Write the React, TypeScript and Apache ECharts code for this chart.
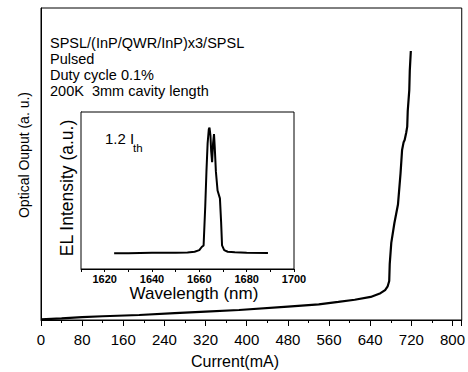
import React, { useEffect, useRef } from "react";
import * as echarts from "echarts";

// Main L-I curve: current (mA) vs optical output (a.u.)
const currentMA = [0, 40, 80, 120, 191, 260, 320, 385, 480, 540, 578, 610, 641, 660, 669, 674, 677, 678, 681, 687, 694, 699, 702, 705, 707, 710, 712, 713, 716, 717, 719];
const opticalOutput = [0.2, 0.5, 0.9, 1.2, 1.6, 2.2, 2.7, 3.2, 4.3, 5.0, 5.8, 6.5, 7.4, 8.6, 9.6, 10.8, 12.5, 18, 24.7, 31, 37, 47, 54.5, 57, 57.7, 60, 62, 67, 73.7, 80, 86.2];

// Inset EL spectrum: wavelength (nm) vs intensity (a.u.)
const wavelengthNM = [1624, 1630, 1640, 1650, 1655, 1658, 1660, 1661, 1661.8, 1662.5, 1663, 1663.5, 1664, 1664.3, 1664.7, 1665, 1665.4, 1665.8, 1666.2, 1666.5, 1667, 1667.7, 1668.7, 1669.2, 1669.6, 1670.5, 1672, 1675, 1680, 1689];
const elIntensity = [10, 10.1, 10.3, 10.3, 10.5, 11, 12, 14, 15, 40, 62, 80, 89, 90, 85, 75, 68, 80, 86, 78, 62, 50, 45, 30, 15, 12, 11, 10.6, 10.3, 10.2];

const annotationLines = [
  "SPSL/(InP/QWR/InP)x3/SPSL",
  "Pulsed",
  "Duty cycle 0.1%",
  "200K  3mm cavity length",
];

const FONT = "Liberation Sans, Arial, sans-serif";

export default function App() {
  const ref = useRef<HTMLDivElement>(null);

  useEffect(() => {
    if (!ref.current) return;
    const chart = echarts.init(ref.current, undefined, { renderer: "svg" });

    const mainData = currentMA.map((x, i) => [x, opticalOutput[i]]);
    const elData = wavelengthNM.map((x, i) => [x, elIntensity[i]]);

    const annoY = [43, 59, 75, 90.5];

    const option: any = {
      animation: false,
      backgroundColor: "#fff",
      grid: [
        { left: 41, top: 8, right: 4, bottom: 52, show: true, borderColor: "#000", borderWidth: 1, backgroundColor: "transparent" },
        { left: 81, top: 112, right: 174, bottom: 103, show: true, borderColor: "#000", borderWidth: 1, backgroundColor: "#fff", z: 5 },
      ],
      xAxis: [
        {
          gridIndex: 0,
          type: "value",
          min: 0,
          max: 818,
          interval: 40,
          axisLine: { show: true, onZero: false, lineStyle: { color: "#000", width: 1 } },
          axisTick: { show: true, length: 3, lineStyle: { color: "#000" } },
          axisLabel: {
            show: true,
            margin: 12,
            color: "#000",
            fontSize: 15,
            fontFamily: FONT,
            formatter: (v: number) => (v % 80 === 0 && v <= 800 ? String(v) : ""),
          },
          splitLine: { show: false },
        },
        {
          gridIndex: 0,
          type: "value",
          position: "bottom",
          min: 0,
          max: 818,
          interval: 80,
          axisLine: { show: false, onZero: false },
          axisTick: { show: true, length: 6, lineStyle: { color: "#000" } },
          axisLabel: { show: false },
          splitLine: { show: false },
        },
        {
          gridIndex: 1,
          type: "value",
          min: 1610,
          max: 1700,
          interval: 10,
          axisLine: { show: true, onZero: false, lineStyle: { color: "#000", width: 1 } },
          axisTick: { show: true, length: 3, lineStyle: { color: "#000" } },
          axisLabel: {
            show: true,
            margin: 4,
            color: "#000",
            fontSize: 11,
            fontWeight: "bold",
            fontFamily: FONT,
            formatter: (v: number) => (v % 20 === 0 ? String(v) : ""),
          },
          splitLine: { show: false },
        },
      ],
      yAxis: [
        {
          gridIndex: 0,
          type: "value",
          min: 0,
          max: 100,
          axisLine: { show: true, lineStyle: { color: "#000" } },
          axisTick: { show: false },
          axisLabel: { show: false },
          splitLine: { show: false },
        },
        {
          gridIndex: 1,
          type: "value",
          min: 0,
          max: 100,
          axisLine: { show: true, lineStyle: { color: "#000" } },
          axisTick: { show: false },
          axisLabel: { show: false },
          splitLine: { show: false },
        },
      ],
      series: [
        {
          type: "line",
          xAxisIndex: 0,
          yAxisIndex: 0,
          data: mainData,
          showSymbol: false,
          symbol: "none",
          lineStyle: { color: "#000", width: 2.2 },
          z: 3,
        },
        {
          type: "line",
          xAxisIndex: 2,
          yAxisIndex: 1,
          data: elData,
          showSymbol: false,
          symbol: "none",
          lineStyle: { color: "#000", width: 2 },
          z: 6,
        },
      ],
      graphic: [
        ...annotationLines.map((t, i) => ({
          type: "text",
          x: 50,
          y: annoY[i],
          z: 10,
          style: { text: t, fontSize: 14.5, fontFamily: FONT, fill: "#000", align: "left", verticalAlign: "middle" },
        })),
        {
          type: "text",
          x: 24,
          y: 155,
          rotation: Math.PI / 2,
          z: 10,
          style: { text: "Optical Ouput (a. u.)", fontSize: 14, fontFamily: FONT, fill: "#000", align: "center", verticalAlign: "middle" },
        },
        {
          type: "text",
          x: 235,
          y: 361,
          z: 10,
          style: { text: "Current(mA)", fontSize: 16, fontFamily: FONT, fill: "#000", align: "center", verticalAlign: "middle" },
        },
        {
          type: "text",
          x: 67,
          y: 188,
          rotation: Math.PI / 2,
          z: 10,
          style: { text: "EL Intensity (a.u.)", fontSize: 17.5, fontFamily: FONT, fill: "#000", align: "center", verticalAlign: "middle" },
        },
        {
          type: "text",
          x: 194,
          y: 293,
          z: 10,
          style: { text: "Wavelength (nm)", fontSize: 17, fontFamily: FONT, fill: "#000", align: "center", verticalAlign: "middle" },
        },
        {
          type: "text",
          x: 105,
          y: 138,
          z: 10,
          style: { text: "1.2 I", fontSize: 15, fontFamily: FONT, fill: "#000", align: "left", verticalAlign: "middle" },
        },
        {
          type: "text",
          x: 133,
          y: 148,
          z: 10,
          style: { text: "th", fontSize: 11.5, fontFamily: FONT, fill: "#000", align: "left", verticalAlign: "middle" },
        },
      ],
    };

    chart.setOption(option);
    return () => chart.dispose();
  }, []);

  return (
    <div
      ref={ref}
      style={{ position: "absolute", left: 0, top: 0, width: 468, height: 372, background: "#fff" }}
    />
  );
}
